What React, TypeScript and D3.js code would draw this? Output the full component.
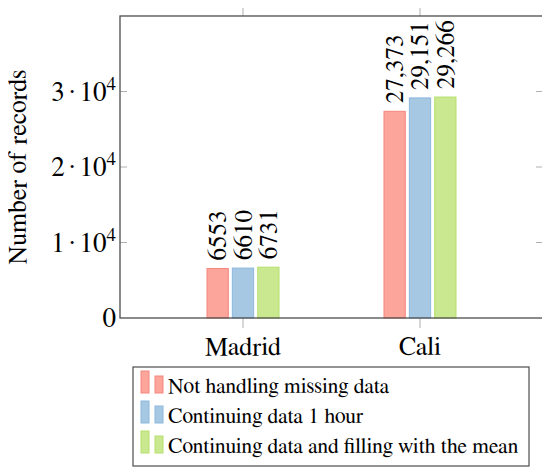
import React from "react";
import * as d3 from "d3";

// categories, series and values
const cities = ["Madrid", "Cali"];
const seriesNames = [
  "Not handling missing data",
  "Continuing data 1 hour",
  "Continuing data and filling with the mean",
];
const madridValues = [6553, 6610, 6731];
const caliValues = [27373, 29151, 29266];
const valueLabels = [
  ["6553", "6610", "6731"],
  ["27,373", "29,151", "29,266"],
];
const yTicks = [0, 10000, 20000, 30000];
const fills = ["#fca59a", "#a6c8e2", "#c9e890"];
const strokes = ["#f4877f", "#8cb8de", "#b6e06e"];

// FreeSerif is the Times-like face that actually resolves here
const serif: React.CSSProperties = { fontFamily: `"FreeSerif"` };

const box = { left: 120, right: 543, top: 16, bottom: 318 };
const values = [madridValues, caliValues];

const x = d3.scalePoint<string>()
  .domain(cities)
  .range([box.left, box.right])
  .padding(0.695);

const xInner = d3.scaleBand<string>()
  .domain(seriesNames)
  .range([-36, 36])
  .paddingInner(0.16)
  .paddingOuter(0);

const y = d3.scaleLinear()
  .domain([0, 40000])
  .range([box.bottom, box.top]);

const App: React.FC = () => {
  const bw = xInner.bandwidth();
  return (
    <svg width={550} height={473} style={{ display: "block", marginLeft: -8, marginTop: -8 }}>
      {/* y ticks, inside on both sides */}
      {yTicks.filter(t => t > 0).map(t => (
        <g key={t} stroke="#b0b0b0">
          <line x1={box.left} x2={box.left + 7} y1={y(t)} y2={y(t)} />
          <line x1={box.right - 7} x2={box.right} y1={y(t)} y2={y(t)} />
        </g>
      ))}

      {/* x ticks, outside top and bottom */}
      {cities.map(c => (
        <g key={c} stroke="#b0b0b0">
          <line x1={x(c)} x2={x(c)} y1={box.bottom} y2={box.bottom + 10} />
          <line x1={x(c)} x2={x(c)} y1={box.top - 9} y2={box.top} />
        </g>
      ))}

      {/* bars and value labels */}
      {cities.map((c, ci) =>
        seriesNames.map((s, si) => {
          const v = values[ci][si];
          const bx = x(c)! + xInner(s)!;
          return (
            <g key={`${c}-${s}`}>
              <rect x={bx} y={y(v)} width={bw} height={y(0) - y(v)} fill={fills[si]} stroke={strokes[si]} />
              <text
                transform={`translate(${bx + bw / 2 + 8.5},${y(v) - 8}) rotate(-90)`}
                fontSize={25}
                style={serif}
              >
                {valueLabels[ci][si]}
              </text>
            </g>
          );
        })
      )}

      {/* frame */}
      <rect
        x={box.left}
        y={box.top}
        width={box.right - box.left}
        height={box.bottom - box.top}
        fill="none"
        stroke="#4d4d4d"
        strokeWidth={1.3}
      />

      {/* y tick labels */}
      {yTicks.map(t => (
        <text key={t} x={116} y={y(t) + 9} textAnchor="end" fontSize={27} style={serif}>
          {t === 0 ? "0" : (
            <>
              <tspan>{`${t / 10000}`}</tspan>
              <tspan dx={4}>·</tspan>
              <tspan dx={4}>10</tspan>
              <tspan dy={-11} fontSize={19}>4</tspan>
            </>
          )}
        </text>
      ))}

      {/* y axis title */}
      <text
        transform={`translate(26,${(box.top + box.bottom) / 2}) rotate(-90)`}
        textAnchor="middle"
        fontSize={26}
        style={serif}
      >
        Number of records
      </text>

      {/* category labels */}
      {cities.map(c => (
        <text key={c} x={x(c)} y={355} textAnchor="middle" fontSize={26} style={serif}>
          {c}
        </text>
      ))}

      {/* legend */}
      <rect x={133} y={367} width={396} height={99} fill="#fff" stroke="#4d4d4d" strokeWidth={1.2} />
      {seriesNames.map((s, i) => {
        const base = 393 + i * 30;
        return (
          <g key={s}>
            <rect x={141} y={base - 22} width={8} height={22} fill={fills[i]} stroke={strokes[i]} />
            <rect x={155} y={base - 17} width={8} height={17} fill={fills[i]} stroke={strokes[i]} />
            <text x={168} y={base} fontSize={21.5} style={serif}>
              {s}
            </text>
          </g>
        );
      })}
    </svg>
  );
};

export default App;
